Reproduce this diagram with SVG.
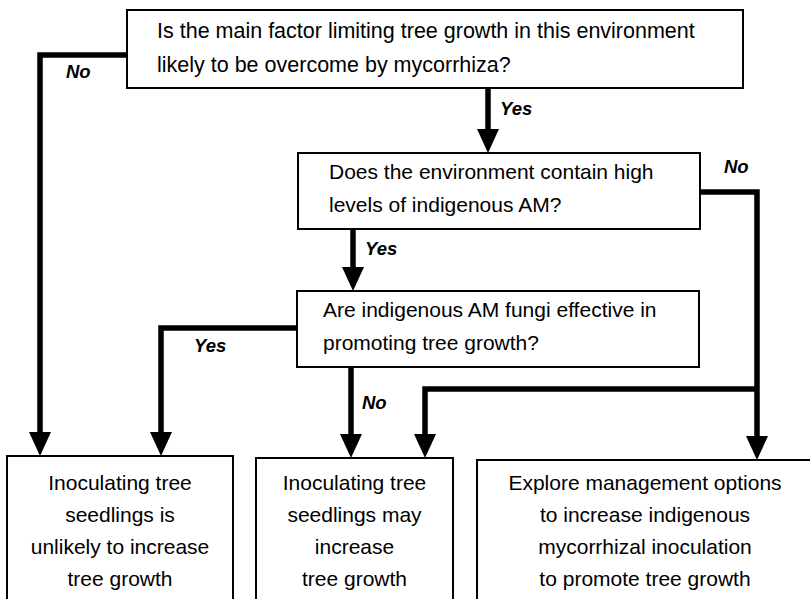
<svg xmlns="http://www.w3.org/2000/svg" width="810" height="599" viewBox="0 0 810 599">
<defs>
<style>
.box{fill:#fff;stroke:#000;stroke-width:2}
.t{font-family:"Liberation Sans",Arial,sans-serif;font-size:21px;fill:#000}
.c{text-anchor:middle}
.lbl{font-family:"Liberation Sans",Arial,sans-serif;font-size:18.5px;font-weight:bold;font-style:italic;fill:#000}
.ln{fill:none;stroke:#000;stroke-width:5.5;stroke-linejoin:miter;stroke-linecap:butt}
</style>
<marker id="ah" markerUnits="userSpaceOnUse" markerWidth="24" markerHeight="22" refX="0" refY="11" orient="auto" viewBox="0 0 24 22">
<path d="M0,0 L24,11 L0,22 Z" fill="#000"/>
</marker>
</defs>
<rect width="810" height="599" fill="#fff"/>
<g id="connectors">
<polyline class="ln" points="127,55 40,55 40,432" marker-end="url(#ah)"/>
<line class="ln" x1="488" y1="88" x2="488" y2="129" marker-end="url(#ah)"/>
<polyline class="ln" points="700,192 757,192 757,436" marker-end="url(#ah)"/>
<polyline class="ln" points="757,389 425,389 425,434" marker-end="url(#ah)"/>
<line class="ln" x1="353" y1="229" x2="353" y2="267" marker-end="url(#ah)"/>
<polyline class="ln" points="297,328 161,328 161,432" marker-end="url(#ah)"/>
<line class="ln" x1="351" y1="367" x2="351" y2="434" marker-end="url(#ah)"/>
<text class="lbl" x="66" y="78">No</text>
<text class="lbl" x="500" y="115">Yes</text>
<text class="lbl" x="724" y="173">No</text>
<text class="lbl" x="365" y="255">Yes</text>
<text class="lbl" x="194" y="352">Yes</text>
<text class="lbl" x="362" y="409">No</text>
</g>
<g id="q1">
<rect class="box" x="127" y="10" width="616" height="78"/>
<text class="t" x="157" y="38" style="font-size:21.5px">Is the main factor limiting tree growth in this environment</text>
<text class="t" x="157" y="72" style="font-size:21.5px">likely to be overcome by mycorrhiza?</text>
</g>
<g id="q2">
<rect class="box" x="298" y="153" width="402" height="76"/>
<text class="t" x="329" y="179">Does the environment contain high</text>
<text class="t" x="329" y="212">levels of indigenous AM?</text>
</g>
<g id="q3">
<rect class="box" x="297" y="291" width="402" height="76"/>
<text class="t" x="323" y="317">Are indigenous AM fungi effective in</text>
<text class="t" x="323" y="350">promoting tree growth?</text>
</g>
<g id="r1">
<rect class="box" x="7" y="456" width="226" height="170"/>
<text class="t c" x="120" y="490">Inoculating tree</text>
<text class="t c" x="120" y="522">seedlings is</text>
<text class="t c" x="120" y="554">unlikely to increase</text>
<text class="t c" x="120" y="586">tree growth</text>
</g>
<g id="r2">
<rect class="box" x="256" y="458" width="197" height="170"/>
<text class="t c" x="354.5" y="490">Inoculating tree</text>
<text class="t c" x="354.5" y="522">seedlings may</text>
<text class="t c" x="354.5" y="554">increase</text>
<text class="t c" x="354.5" y="586">tree growth</text>
</g>
<g id="r3">
<rect class="box" x="477" y="460" width="345" height="170"/>
<text class="t c" x="645" y="490">Explore management options</text>
<text class="t c" x="645" y="522">to increase indigenous</text>
<text class="t c" x="645" y="554">mycorrhizal inoculation</text>
<text class="t c" x="645" y="586">to promote tree growth</text>
</g>
</svg>
